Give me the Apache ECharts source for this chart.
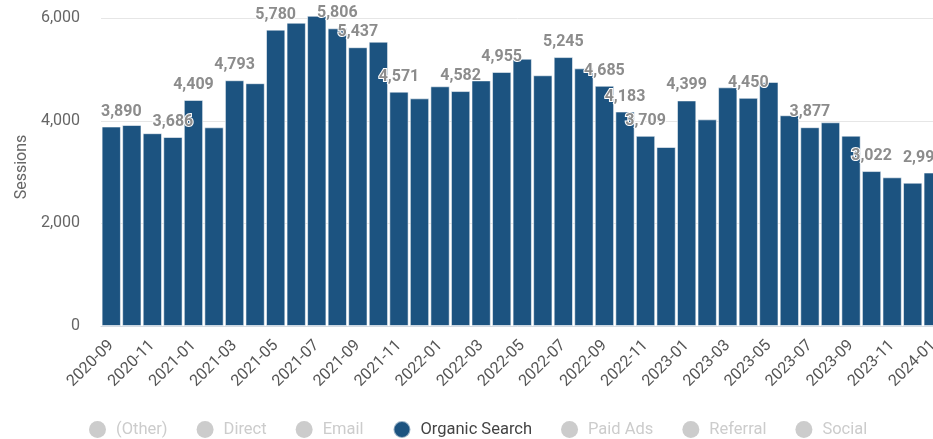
<!DOCTYPE html>
<html>
<head>
<meta charset="utf-8">
<script src="https://cdn.jsdelivr.net/npm/echarts@6/dist/echarts.min.js"></script>
<style>
html,body{margin:0;padding:0;background:#fff;}
#chart{width:933px;height:439px;}
</style>
</head>
<body>
<div id="chart"></div>
<script>
const months = ['2020-09','2020-10','2020-11','2020-12','2021-01','2021-02','2021-03','2021-04','2021-05','2021-06','2021-07','2021-08','2021-09','2021-10','2021-11','2021-12','2022-01','2022-02','2022-03','2022-04','2022-05','2022-06','2022-07','2022-08','2022-09','2022-10','2022-11','2022-12','2023-01','2023-02','2023-03','2023-04','2023-05','2023-06','2023-07','2023-08','2023-09','2023-10','2023-11','2023-12','2024-01'];
const organicSearch = [3890,3920,3760,3686,4409,3875,4793,4735,5780,5915,6050,5806,5437,5545,4571,4440,4675,4582,4790,4955,5213,4890,5245,5025,4685,4183,3709,3491,4399,4030,4655,4450,4760,4110,3877,3973,3712,3022,2900,2795,2993];
const labeledIndices = [0,3,4,6,8,11,12,14,17,19,22,24,25,26,28,31,34,37,40];
const channels = ['(Other)','Direct','Email','Organic Search','Paid Ads','Referral','Social'];
const yTicks = [0,2000,4000,6000];

const chart = echarts.init(document.getElementById('chart'), null, {renderer:'canvas'});
const FONT = 'Roboto';
const barColor = '#1c5380';

const organicData = organicSearch.map((v,i)=>{
  if (!labeledIndices.includes(i)) return v;
  let off = [0,0];
  if (i === 0) off = [10,0];
  if (i === organicSearch.length-1) off = [-10,0];
  return {value:v, label:{show:true, offset:off}};
});

const selected = {};
channels.forEach(c=>{ selected[c] = (c === 'Organic Search'); });

const series = channels.map(c=>{
  if (c === 'Organic Search') {
    return {
      name:c, type:'bar', stack:'total',
      data: organicData,
      barCategoryGap:'6%',
      itemStyle:{color:barColor, borderColor:'rgba(255,255,255,0.55)', borderWidth:1},
      label:{show:false, position:'top', distance:7, fontFamily:FONT, fontSize:16, fontWeight:'bold',
        color:'#8c8c8c', textBorderColor:'#fff', textBorderWidth:2,
        formatter:p=>p.value.toLocaleString('en-US')},
      emphasis:{disabled:true}
    };
  }
  return {name:c, type:'bar', stack:'total', data:[], itemStyle:{color:'#999'}};
});

chart.setOption({
  animation:false,
  textStyle:{fontFamily:FONT},
  legend:{
    data:channels, selected:selected, icon:'circle',
    left:84, top:415, itemWidth:27, itemHeight:17, itemGap:29,
    textStyle:{fontFamily:FONT, fontSize:16.5, color:'#444'},
    inactiveColor:'#cccccc', selectedMode:true
  },
  grid:{left:101, right:-10.5, top:8.1, bottom:113, containLabel:false, outerBoundsMode:'none'},
  xAxis:{
    type:'category', data:months,
    axisLine:{show:true, lineStyle:{color:'#d6dce3'}},
    axisTick:{show:false},
    axisLabel:{interval:1, rotate:45, margin:17, fontFamily:FONT, fontSize:16, color:'#555'}
  },
  yAxis:{
    type:'value', min:yTicks[0], max:6200, interval:2000,
    name:'Sessions', nameLocation:'middle', nameRotate:90, nameGap:70,
    nameTextStyle:{fontFamily:FONT, fontSize:16, color:'#666'},
    axisLine:{show:false}, axisTick:{show:false},
    axisLabel:{margin:21, fontFamily:FONT, fontSize:16, color:'#666', showMaxLabel:false,
      formatter:v=>v.toLocaleString('en-US')},
    splitLine:{show:true, showMaxLine:false, showMinLine:false, lineStyle:{color:'#e6e6e6', width:1}}
  },
  series:series
});
</script>
</body>
</html>
